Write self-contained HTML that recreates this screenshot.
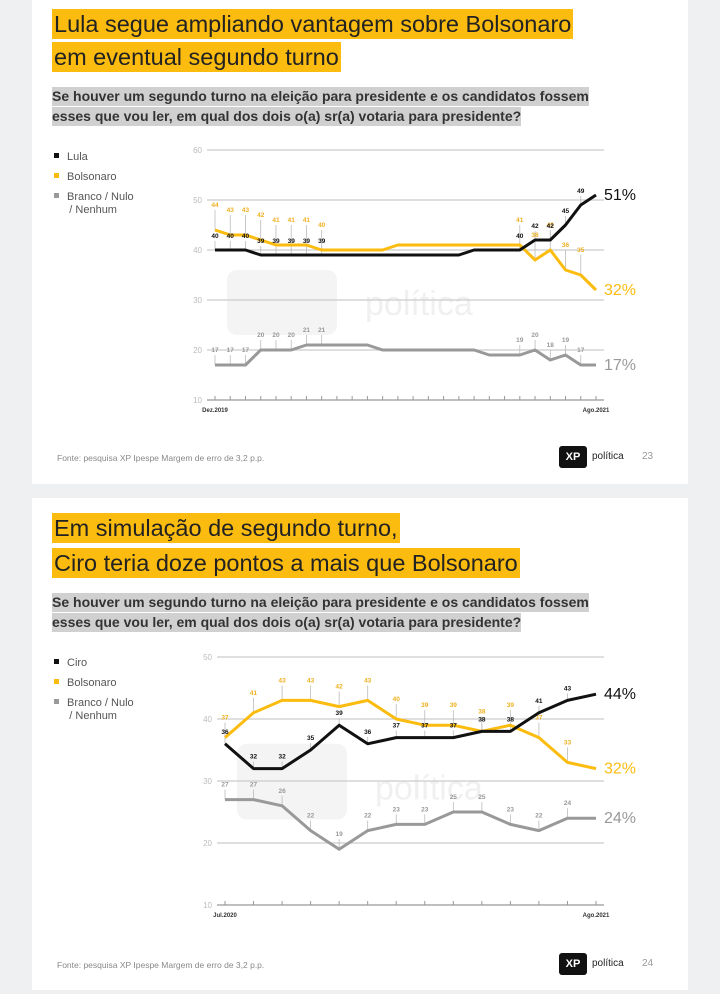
<!DOCTYPE html>
<html><head><meta charset="utf-8"><style>
body{margin:0;width:720px;height:994px;background:#eff0f2;font-family:"Liberation Sans",sans-serif;position:relative;overflow:hidden}
.card{position:absolute;left:32px;width:656px;background:#fff}
.t{position:absolute;left:20px;font-size:23.5px;color:#222;background:#fbbc0f;line-height:30px;padding:0 2px;white-space:nowrap}
.s{position:absolute;left:20px;font-size:14px;font-weight:bold;color:#333;background:#d0d0d0;line-height:19px;white-space:nowrap}
.leg{position:absolute;left:22px;font-size:11px;color:#555;line-height:13px}
.leg span{display:inline-block;width:5px;height:5px;margin-right:8px;vertical-align:2px}
.foot{position:absolute;left:25px;font-size:8.5px;color:#888}
.logo{position:absolute;left:527px;width:28px;height:22px;background:#111;border-radius:3px;color:#fff;font-size:11px;font-weight:bold;text-align:center;line-height:22px}
.lt{position:absolute;left:560px;font-size:10px;color:#222}
.pg{position:absolute;left:610px;font-size:10px;color:#999}
svg{position:absolute;left:0;top:0}
</style></head><body>
<div class="card" style="top:0;height:484px">
<div class="t" style="top:9px">Lula segue ampliando vantagem sobre Bolsonaro</div>
<div class="t" style="top:42px">em eventual segundo turno</div>
<div class="s" style="top:87px">Se houver um segundo turno na eleição para presidente e os candidatos fossem</div>
<div class="s" style="top:107px">esses que vou ler, em qual dos dois o(a) sr(a) votaria para presidente?</div>
<div class="leg" style="top:151px"><div><span style="background:#111"></span>Lula</div><div style="margin-top:7px"><span style="background:#fbbc0f"></span>Bolsonaro</div><div style="margin-top:7px"><span style="background:#999"></span>Branco / Nulo<br>&nbsp;&nbsp;&nbsp;&nbsp;&nbsp;/ Nenhum</div></div>
<div class="foot" style="top:453px">Fonte: pesquisa XP Ipespe Margem de erro de 3,2 p.p.</div>
<div class="logo" style="top:446px">XP</div>
<div class="lt" style="top:451px">política</div>
<div class="pg" style="top:451px">23</div>
</div>
<div class="card" style="top:498px;height:492px">
<div class="t" style="top:15px">Em simulação de segundo turno,</div>
<div class="t" style="top:50px">Ciro teria doze pontos a mais que Bolsonaro</div>
<div class="s" style="top:95px">Se houver um segundo turno na eleição para presidente e os candidatos fossem</div>
<div class="s" style="top:115px">esses que vou ler, em qual dos dois o(a) sr(a) votaria para presidente?</div>
<div class="leg" style="top:159px"><div><span style="background:#111"></span>Ciro</div><div style="margin-top:7px"><span style="background:#fbbc0f"></span>Bolsonaro</div><div style="margin-top:7px"><span style="background:#999"></span>Branco / Nulo<br>&nbsp;&nbsp;&nbsp;&nbsp;&nbsp;/ Nenhum</div></div>
<div class="foot" style="top:462px">Fonte: pesquisa XP Ipespe Margem de erro de 3,2 p.p.</div>
<div class="logo" style="top:455px">XP</div>
<div class="lt" style="top:460px">política</div>
<div class="pg" style="top:460px">24</div>
</div>
<svg id="chart" width="720" height="994"></svg>
<script>
const ticks1 = [60,50,40,30,20,10];
const ticks2 = [50,40,30,20,10];
const lula = [40,40,40,39,39,39,39,39,39,39,39,39,39,39,39,39,39,40,40,40,40,42,42,45,49,51];
const bolso1 = [44,43,43,42,41,41,41,40,40,40,40,40,41,41,41,41,41,41,41,41,41,38,40,36,35,32];
const branco1 = [17,17,17,20,20,20,21,21,21,21,21,20,20,20,20,20,20,20,19,19,19,20,18,19,17,17];
const labels1 = [0,1,2,3,4,5,6,7,20,21,22,23,24];
const ciro = [36,32,32,35,39,36,37,37,37,38,38,41,43,44];
const bolso2 = [37,41,43,43,42,43,40,39,39,38,39,37,33,32];
const branco2 = [27,27,26,22,19,22,23,23,25,25,23,22,24,24];
const labels2 = [0,1,2,3,4,5,6,7,8,9,10,11,12];
const dates1 = ["Dez.2019","Ago.2021"];
const dates2 = ["Jul.2020","Ago.2021"];
const svg=document.getElementById('chart');
const NS='http://www.w3.org/2000/svg';
function mk(t,a,txt){const e=document.createElementNS(NS,t);for(const k in a)e.setAttribute(k,a[k]);if(txt!==undefined)e.textContent=txt;svg.appendChild(e);return e;}
function chart(cfg){
 const n=cfg.series[0].v.length;
 const top=cfg.ticks[0];
 const X=i=>cfg.x0+(cfg.x1-cfg.x0)*i/(n-1);
 const Y=v=>cfg.y10+(v-10)*(cfg.ytop-cfg.y10)/(top-10);
 const wm=mk('rect',{x:cfg.x0+12,y:Y(36),width:110,height:Y(27)-Y(36)+20,rx:10,fill:'#f4f4f4'});
 
 
 const wt=mk('text',{x:cfg.x0+150,y:Y(27),'font-size':34,fill:'#f0f0f0'},'política');
 
 
 cfg.ticks.forEach(t=>{
  const g=mk('line',{x1:cfg.x0-8,x2:cfg.x1+8,y1:Y(t),y2:Y(t),stroke:t==10?'#aaa':'#ccc','stroke-width':t==10?1.5:1.2});
  
  
  const l=mk('text',{x:cfg.x0-13,y:Y(t)+3,'font-size':8,fill:'#bbb','text-anchor':'end'},t);
  
  
 });
 for(let i=0;i<n;i++){const tk=mk('line',{x1:X(i),x2:X(i),y1:Y(10)-4,y2:Y(10),stroke:'#999'});
  
  }
 const d0=mk('text',{x:cfg.x0,y:Y(10)+12,'font-size':6,'font-weight':'bold',fill:'#333','text-anchor':'middle'},cfg.dates[0]);
 
 
 const d1=mk('text',{x:cfg.x1,y:Y(10)+12,'font-size':6,'font-weight':'bold',fill:'#333','text-anchor':'middle'},cfg.dates[1]);
 
 
 cfg.series.forEach(s=>{
  cfg.labels.forEach(i=>{
   const ln=mk('line',{x1:X(i),x2:X(i),y1:Y(s.v[i]),y2:Y(s.v[i])-s.off+3,stroke:'#bbb','stroke-width':0.8});
   
   
  });
 });
 cfg.series.forEach(s=>{
  const p=mk('polyline',{points:s.v.map((v,i)=>X(i)+','+Y(v)).join(' '),fill:'none',stroke:s.c,'stroke-width':3,'stroke-linejoin':'round'});
  
  
  cfg.labels.forEach(i=>{
   const t=mk('text',{x:X(i),y:Y(s.v[i])-s.off,'font-size':6.5,'font-weight':'bold',fill:s.lc,'text-anchor':'middle'},s.v[i]);
   
   
  });
  const e=mk('text',{x:cfg.x1+8,y:Y(s.v[n-1])+5,'font-size':16,fill:s.ec},s.v[n-1]+'%');
  
  
 });
}
chart({x0:215,x1:596,ytop:150,y10:400,ticks:ticks1,dates:dates1,labels:labels1,series:[
 {name:'branco',v:branco1,c:'#999',lc:'#999',ec:'#999',off:13},
 {name:'bolsonaro',v:bolso1,c:'#fbbc0f',lc:'#f0b020',ec:'#fbbc0f',off:23},
 {name:'lula',v:lula,c:'#111',lc:'#111',ec:'#111',off:12}]});
chart({x0:225,x1:596,ytop:657,y10:905,ticks:ticks2,dates:dates2,labels:labels2,series:[
 {name:'branco',v:branco2,c:'#999',lc:'#999',ec:'#999',off:13},
 {name:'bolsonaro',v:bolso2,c:'#fbbc0f',lc:'#f0b020',ec:'#fbbc0f',off:18},
 {name:'ciro',v:ciro,c:'#111',lc:'#111',ec:'#111',off:10}]});
</script>
</body></html>
